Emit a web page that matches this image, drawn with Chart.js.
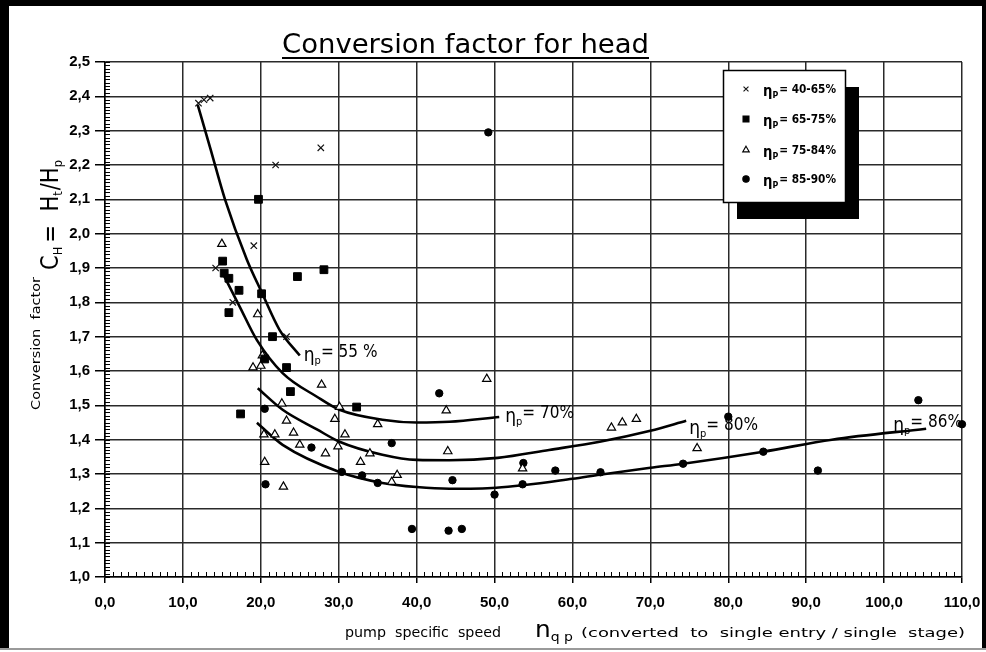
<!DOCTYPE html>
<html><head><meta charset="utf-8">
<script src="https://cdn.jsdelivr.net/npm/chart.js@4.4.0/dist/chart.umd.min.js"></script>
<style>html,body{margin:0;padding:0;background:#fff;}#wrap{width:986px;height:652px;position:relative;}</style>
</head><body><div id="wrap"><canvas id="c" width="986" height="652"></canvas></div>
<script>
// ---------- DATA ----------
const seriesNames = ['40-65%', '65-75%', '75-84%', '85-90%'];
const eff40_65 = [[12.0,2.38],[12.7,2.39],[13.5,2.395],[21.9,2.20],[27.7,2.25],[19.1,1.965],[14.2,1.90],[16.4,1.80],[23.3,1.70]];
const eff65_75 = [[19.7,2.10],[15.1,1.92],[15.3,1.885],[15.9,1.87],[24.7,1.875],[28.1,1.895],[17.2,1.835],[20.1,1.825],[15.9,1.77],[21.5,1.70],[20.5,1.635],[23.3,1.61],[23.8,1.54],[17.4,1.475],[32.3,1.495]];
const eff75_84 = [[15.0,1.97],[19.6,1.765],[20.2,1.645],[19.0,1.61],[20.0,1.615],[27.8,1.56],[22.7,1.505],[23.3,1.455],[30.1,1.495],[29.5,1.46],[35.0,1.445],[20.4,1.415],[21.8,1.415],[24.2,1.42],[30.8,1.415],[25.0,1.385],[29.9,1.38],[28.3,1.36],[34.0,1.36],[32.8,1.335],[20.5,1.335],[37.5,1.297],[36.8,1.277],[22.9,1.263],[49.0,1.577],[43.8,1.485],[44.0,1.366],[53.6,1.316],[65.0,1.435],[66.4,1.45],[68.2,1.46],[76.0,1.375]];
const eff85_90 = [[49.2,2.295],[20.5,1.49],[26.5,1.377],[36.8,1.39],[30.4,1.306],[33.0,1.296],[35.0,1.274],[20.6,1.27],[39.4,1.14],[42.9,1.535],[44.6,1.282],[50.0,1.24],[53.7,1.332],[53.6,1.27],[57.8,1.31],[63.6,1.305],[44.1,1.135],[45.8,1.14],[74.2,1.33],[84.5,1.365],[91.5,1.31],[104.4,1.515],[110.0,1.445],[80.0,1.467]];
const curveLabels = ['55 %', '70%', '80%', '86%'];
const curve55 = [[11.9,2.375],[13.5,2.25],[15.4,2.10],[18.2,1.925],[20.1,1.83],[22.4,1.72],[25.0,1.645]];
const curve70 = [[15.1,1.885],[17.3,1.787],[19.5,1.69],[22.8,1.594],[27.2,1.525],[30.1,1.487],[35.6,1.458],[40.0,1.45],[44.2,1.452],[50.6,1.466]];
const curve80 = [[19.6,1.55],[22.8,1.487],[27.2,1.43],[30.1,1.394],[35.6,1.356],[40.0,1.341],[44.2,1.34],[50.4,1.347],[57.0,1.37],[63.5,1.394],[70.0,1.426],[74.6,1.455]];
const curve86 = [[19.5,1.449],[22.8,1.385],[30.1,1.306],[35.6,1.274],[40.0,1.262],[44.2,1.257],[50.2,1.26],[60.0,1.286],[63.5,1.298],[70.0,1.318],[74.2,1.33],[84.5,1.365],[93.3,1.40],[105.4,1.432]];
const xMin = 0, xMax = 110, xStep = 10;
const yMin = 1.0, yMax = 2.5, yStep = 0.1;
const chartTitle = 'Conversion factor for head';

// ---------- STYLE ----------
const NARROW = '"Liberation Sans Narrow","DejaVu Sans Condensed","Arial Narrow","Liberation Sans",sans-serif';
const TICKF = '"Liberation Sans Narrow","Liberation Sans",Arial,sans-serif';
const toXY = a => a.map(p => ({x: p[0], y: p[1]}));
const fmt = v => (Math.round(v * 10) / 10).toFixed(1).replace('.', ',');

const markerStyles = [
  {pointStyle: 'crossRot', pointRadius: 4.5, borderColor: '#111', backgroundColor: '#111', pointBorderWidth: 1.2},
  {pointStyle: 'rect', pointRadius: 5.5, borderColor: '#000', backgroundColor: '#000', pointBorderWidth: 1},
  {pointStyle: 'triangle', pointRadius: 4.8, borderColor: '#000', backgroundColor: '#fff', pointBorderWidth: 1.2},
  {pointStyle: 'circle', pointRadius: 3.7, borderColor: '#000', backgroundColor: '#000', pointBorderWidth: 1}
];
const seriesData = [eff40_65, eff65_75, eff75_84, eff85_90];
const curves = [curve55, curve70, curve80, curve86];
const labelOffsets = [[4, -5], [6, -5], [3, 3], [-33, -8]];

const datasets = [];
curves.forEach((c, i) => datasets.push({
  label: 'curve' + curveLabels[i], data: toXY(c), showLine: true, pointRadius: 0, pointHoverRadius: 0,
  borderColor: '#000', borderWidth: 2.6, cubicInterpolationMode: 'monotone', fill: false, order: 2
}));
seriesData.forEach((s, i) => datasets.push(Object.assign({
  label: seriesNames[i], data: toXY(s), showLine: false, order: 1, clip: false
}, markerStyles[i])));

function drawParts(ctx, parts, x, y, targetW) {
  let w = 0;
  for (const p of parts) { ctx.font = p.f; w += ctx.measureText(p.t).width + (p.gap || 0); }
  const sx = targetW ? targetW / w : 1;
  ctx.save();
  ctx.translate(x, y);
  ctx.scale(sx, 1);
  let cx = 0;
  for (const p of parts) {
    ctx.font = p.f;
    ctx.fillText(p.t, cx, p.dy || 0);
    cx += ctx.measureText(p.t).width + (p.gap || 0);
  }
  ctx.restore();
  return w * sx;
}

const decor = {
  id: 'decor',
  beforeDraw(chart) {
    const ctx = chart.ctx;
    ctx.save();
    ctx.fillStyle = '#fff';
    ctx.fillRect(0, 0, chart.width, chart.height);
    ctx.restore();
  },
  afterDraw(chart) {
    const ctx = chart.ctx;
    const xs = chart.scales.x, ys = chart.scales.y;
    const ca = chart.chartArea;
    ctx.save();
    ctx.fillStyle = '#000';
    ctx.strokeStyle = '#000';
    ctx.textBaseline = 'alphabetic';

    // minor ticks x
    ctx.lineWidth = 1;
    ctx.beginPath();
    for (let v = xMin; v <= xMax; v += 1) {
      if (v % 10 === 0) continue;
      const px = Math.round(xs.getPixelForValue(v)) + 0.5;
      ctx.moveTo(px, ca.bottom); ctx.lineTo(px, ca.bottom - 5);
    }
    ctx.stroke();
    // minor ticks y
    ctx.beginPath();
    for (let k = 0; k <= 150; k++) {
      const v = yMin + k * 0.01;
      const py = Math.round(ys.getPixelForValue(v)) + 0.5;
      ctx.moveTo(ca.left, py); ctx.lineTo(ca.left + 5, py);
    }
    ctx.stroke();

    // curve labels
    curves.forEach((c, i) => {
      const last = c[c.length - 1];
      const px = xs.getPixelForValue(last[0]) + labelOffsets[i][0];
      const py = ys.getPixelForValue(last[1]) + labelOffsets[i][1];
      drawParts(ctx, [
        {t: 'η', f: '19px ' + NARROW, dy: 4},
        {t: 'p', f: '11px ' + NARROW, dy: 7},
        {t: '= ' + curveLabels[i], f: '17px ' + NARROW, gap: 0}
      ], px, py + 6);
    });

    // legend
    const lx = 723, ly = 70, lw = 122, lh = 132;
    ctx.fillStyle = '#000';
    ctx.fillRect(lx + 14, ly + 17, lw, lh);
    ctx.fillStyle = '#fff';
    ctx.fillRect(lx, ly, lw, lh);
    ctx.lineWidth = 1.5;
    ctx.strokeRect(lx + 0.5, ly + 0.5, lw, lh);
    const rows = [89, 119, 150, 179];
    const lgRad = [3.5, 4.2, 3.8, 3.2];
    seriesNames.forEach((n, i) => {
      const ms = markerStyles[i];
      ctx.fillStyle = ms.backgroundColor; ctx.strokeStyle = ms.borderColor; ctx.lineWidth = 1.1;
      Chart.helpers.drawPoint(ctx, {pointStyle: ms.pointStyle, radius: lgRad[i], borderWidth: 1.1, rotation: 0}, 746, rows[i]);
      ctx.fillStyle = '#000';
      drawParts(ctx, [
        {t: 'η', f: 'bold 15px ' + NARROW, dy: 3},
        {t: 'P', f: 'bold 9px ' + NARROW, dy: 5, gap: 1},
        {t: '= ' + n, f: 'bold 12px ' + NARROW}
      ], 763, rows[i] + 4, 73);
    });

    // title
    ctx.fillStyle = '#000';
    drawParts(ctx, [{t: chartTitle, f: '26px ' + NARROW}], 282, 53, 367);
    ctx.fillRect(282, 57, 367, 2);

    // y title
    ctx.save();
    ctx.translate(40, 410);
    ctx.rotate(-Math.PI / 2);
    drawParts(ctx, [{t: 'Conversion  factor', f: '13px ' + NARROW}], 0, 0, 133);
    drawParts(ctx, [
      {t: 'C', f: '24px ' + NARROW},
      {t: 'H', f: '13px ' + NARROW, dy: 4, gap: 4},
      {t: '=  H', f: '24px ' + NARROW},
      {t: 't', f: '13px ' + NARROW, dy: 4, gap: 1},
      {t: '/H', f: '24px ' + NARROW},
      {t: 'p', f: '13px ' + NARROW, dy: 4}
    ], 140, 18, 110);
    ctx.restore();

    // x title
    drawParts(ctx, [{t: 'pump  specific  speed', f: '14px ' + NARROW}], 345, 637, 156);
    drawParts(ctx, [
      {t: 'n', f: '23px ' + NARROW},
      {t: 'q p', f: '13px ' + NARROW, dy: 4}
    ], 535, 637, 38);
    drawParts(ctx, [{t: '(converted  to  single entry / single  stage)', f: '13px ' + NARROW}], 581, 637, 384);

    // outer frame
    ctx.fillStyle = '#000';
    ctx.fillRect(0, 0, 986, 6);
    ctx.fillRect(0, 0, 9, 652);
    ctx.fillRect(982, 0, 4, 650);
    ctx.fillStyle = '#9a9a9a';
    ctx.fillRect(0, 648, 986, 2);
    ctx.fillStyle = '#fff';
    ctx.fillRect(0, 650, 986, 2);
    ctx.restore();
  }
};

new Chart(document.getElementById('c'), {
  type: 'scatter',
  data: {datasets},
  options: {
    responsive: false,
    animation: false,
    devicePixelRatio: 1,
    layout: {padding: {top: 62, right: 24, left: 0, bottom: 0}},
    plugins: {legend: {display: false}, tooltip: {enabled: false}, title: {display: false}},
    scales: {
      x: {
        type: 'linear', min: xMin, max: xMax,
        afterFit: s => { s.height = 75; s.paddingLeft = 0; s.paddingRight = 0; },
        ticks: {stepSize: xStep, callback: v => fmt(v), color: '#000', font: {family: TICKF, size: 15, weight: 'bold'}, padding: 11, maxRotation: 0, autoSkip: false},
        grid: {color: '#2a2a2a', lineWidth: 1.5, tickLength: 6, tickColor: '#000'},
        border: {color: '#000', width: 1.5}
      },
      y: {
        type: 'linear', min: yMin, max: yMax,
        afterFit: s => { s.width = 105; s.paddingTop = 0; s.paddingBottom = 0; },
        ticks: {stepSize: yStep, callback: v => fmt(v), color: '#000', font: {family: TICKF, size: 15, weight: 'bold'}, padding: 5, autoSkip: false},
        grid: {color: '#2a2a2a', lineWidth: 1.5, tickLength: 10, tickColor: '#000'},
        border: {color: '#000', width: 1.5}
      }
    }
  },
  plugins: [decor]
});
</script>
</body></html>
